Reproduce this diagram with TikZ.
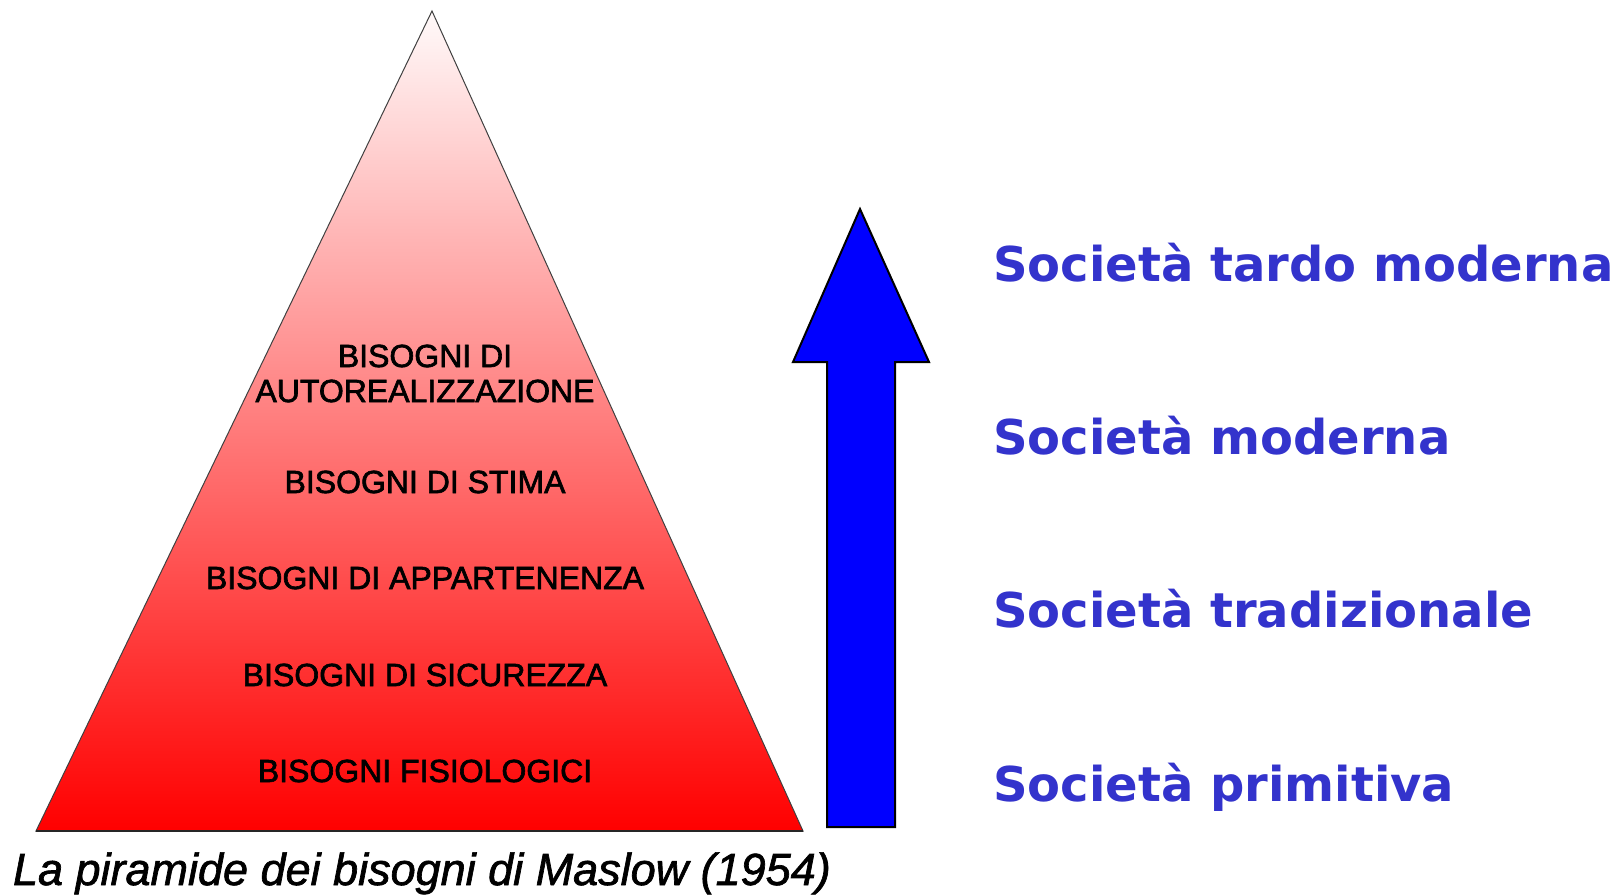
\documentclass[tikz,border=0pt]{standalone}
\usepackage{fontspec}
\setmainfont{Liberation Sans}
\newfontfamily\socfont{DejaVu Sans}
\newfontfamily\lvlfont{Liberation Sans}[FakeBold=2]
\newfontfamily\capfont{Liberation Sans Italic}[FakeBold=1.5]
\definecolor{soc}{RGB}{51,51,204}
\definecolor{arrblue}{RGB}{0,0,255}
\tikzset{
  lvl/.style={anchor=base, inner sep=0pt, font=\lvlfont\fontsize{32}{33}\selectfont, text=black},
  soclabel/.style={anchor=base west, inner sep=0pt, font=\socfont\bfseries\fontsize{48}{52}\selectfont, text=soc},
  captext/.style={anchor=base, inner sep=0pt, font=\capfont\fontsize{45}{48}\selectfont, text=black},
  pyr/.style={draw=black!75, line width=1pt},
  bigarrow/.style={fill=arrblue, draw=black, line width=2pt, line join=miter}
}
\begin{document}
\begin{tikzpicture}[x=1pt,y=-1pt]
\useasboundingbox (0,0) rectangle (1614,895);
% pyramid
\coordinate (apex) at (432,11);
\coordinate (bl) at (36,831);
\coordinate (br) at (803,831);
\shade[top color=red!2, bottom color=red] (apex) -- (br) -- (bl) -- cycle;
\draw[pyr] (apex) -- (br) -- (bl) -- cycle;
\draw[black!85, line width=2pt] (bl) -- (br);
% level labels
\node[lvl] (n1) at (425,367) {BISOGNI DI};
\node[lvl] (n2) at (425,402) {AUTOREALIZZAZIONE};
\node[lvl] (n3) at (425,493) {BISOGNI DI STIMA};
\node[lvl] (n4) at (425,589) {BISOGNI DI APPARTENENZA};
\node[lvl] (n5) at (425,686) {BISOGNI DI SICUREZZA};
\node[lvl] (n6) at (425,782) {BISOGNI FISIOLOGICI};
% caption
\node[captext] (cap) at (422,885) {La piramide dei bisogni di Maslow (1954)};
% arrow
\coordinate (tip) at (860,209);
\path[bigarrow] (tip) -- (929,362) -- (895,362) -- (895,827) -- (827,827) -- (827,362) -- (793,362) -- cycle;
% society labels
\node[soclabel] (s1) at (993,281) {Società tardo moderna};
\node[soclabel] (s2) at (993,454) {Società moderna};
\node[soclabel] (s3) at (993,627) {Società tradizionale};
\node[soclabel] (s4) at (993,801) {Società primitiva};
\end{tikzpicture}
\end{document}
